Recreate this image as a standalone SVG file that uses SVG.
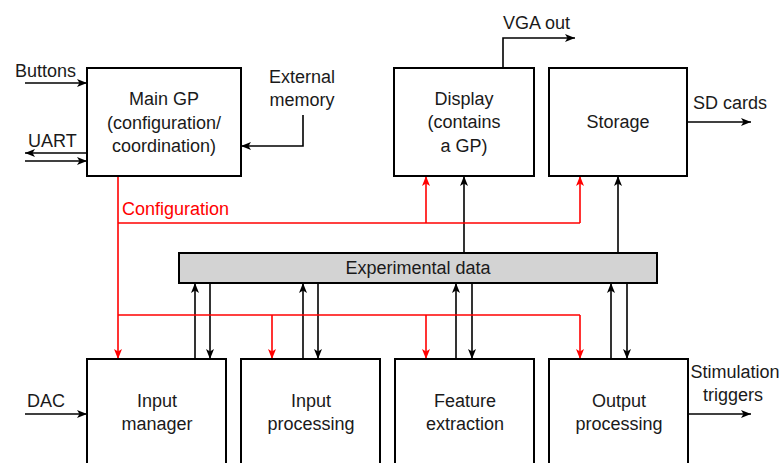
<svg xmlns="http://www.w3.org/2000/svg" width="783" height="463" viewBox="0 0 783 463">
<style>
.box{fill:#fff;stroke:#000;stroke-width:2}
.bar{fill:#d3d3d3;stroke:#000;stroke-width:2}
.t{font-family:"Liberation Sans",Arial,sans-serif;font-size:18px;fill:#1a1a1a}
.c{text-anchor:middle}
.k{fill:none;stroke:#000;stroke-width:1.6}
.r{fill:none;stroke:#f00;stroke-width:1.6}
.ka{marker-end:url(#ak)}
.ra{marker-end:url(#ar)}
</style>
<defs>
<marker id="ak" markerUnits="userSpaceOnUse" markerWidth="12" markerHeight="10" refX="10" refY="4" orient="auto">
<path d="M0,0 L10,4 L0,8 L2.5,4 z" fill="#000"/>
</marker>
<marker id="ar" markerUnits="userSpaceOnUse" markerWidth="12" markerHeight="10" refX="10" refY="4" orient="auto">
<path d="M0,0 L10,4 L0,8 L2.5,4 z" fill="#f00"/>
</marker>
</defs>
<rect width="783" height="463" fill="#fff"/>

<g id="connectors">
<line class="k ka" x1="25" y1="83" x2="87" y2="83"/>
<line class="k ka" x1="87" y1="153" x2="25" y2="153"/>
<line class="k ka" x1="25" y1="161" x2="87" y2="161"/>
<polyline class="k ka" points="303,115 303,146 241,146"/>
<polyline class="k ka" points="503,68 503,38 575,38"/>
<line class="k ka" x1="687" y1="122" x2="751" y2="122"/>
<line class="k ka" x1="25" y1="414" x2="87" y2="414"/>
<line class="k ka" x1="688" y1="414" x2="751" y2="414"/>
<line class="k ka" x1="464" y1="253" x2="464" y2="176"/>
<line class="k ka" x1="618" y1="253" x2="618" y2="176"/>
<line class="k ka" x1="195" y1="359" x2="195" y2="283"/>
<line class="k ka" x1="210" y1="283" x2="210" y2="359"/>
<line class="k ka" x1="303" y1="359" x2="303" y2="283"/>
<line class="k ka" x1="318" y1="283" x2="318" y2="359"/>
<line class="k ka" x1="456" y1="359" x2="456" y2="283"/>
<line class="k ka" x1="472" y1="283" x2="472" y2="359"/>
<line class="k ka" x1="611" y1="359" x2="611" y2="283"/>
<line class="k ka" x1="627" y1="283" x2="627" y2="359"/>
<line class="r ra" x1="118" y1="176" x2="118" y2="359"/>
<line class="r" x1="118" y1="223" x2="580" y2="223"/>
<line class="r ra" x1="426" y1="223" x2="426" y2="176"/>
<line class="r ra" x1="580" y1="223" x2="580" y2="176"/>
<line class="r" x1="118" y1="315" x2="580" y2="315"/>
<line class="r ra" x1="272" y1="315" x2="272" y2="359"/>
<line class="r ra" x1="426" y1="315" x2="426" y2="359"/>
<line class="r ra" x1="580" y1="315" x2="580" y2="359"/>
</g>

<g id="labels">
<text class="t" x="15" y="77">Buttons</text>
<text class="t" x="28" y="147">UART</text>
<text class="t c" x="302" y="83">External</text>
<text class="t c" x="302" y="106">memory</text>
<text class="t" x="503" y="29">VGA out</text>
<text class="t" x="693" y="109">SD cards</text>
<text class="t" x="122" y="215" style="fill:#f00">Configuration</text>
<text class="t" x="27" y="407">DAC</text>
<text class="t c" x="735" y="378">Stimulation</text>
<text class="t c" x="733" y="401">triggers</text>
</g>

<g id="main-gp">
<rect class="box" x="87" y="68" width="154" height="108"/>
<text class="t c" x="164" y="105">Main GP</text>
<text class="t c" x="164" y="129">(configuration/</text>
<text class="t c" x="164" y="152">coordination)</text>
</g>
<g id="display">
<rect class="box" x="394" y="68" width="140" height="108"/>
<text class="t c" x="464" y="105">Display</text>
<text class="t c" x="464" y="128">(contains</text>
<text class="t c" x="464" y="152">a GP)</text>
</g>
<g id="storage">
<rect class="box" x="549" y="68" width="138" height="108"/>
<text class="t c" x="618" y="128">Storage</text>
</g>
<g id="experimental-data">
<rect class="bar" x="179" y="253" width="478" height="30"/>
<text class="t c" x="418" y="274">Experimental data</text>
</g>
<g id="input-manager">
<rect class="box" x="87" y="359" width="139" height="110"/>
<text class="t c" x="157" y="407">Input</text>
<text class="t c" x="157" y="430">manager</text>
</g>
<g id="input-processing">
<rect class="box" x="241" y="359" width="139" height="110"/>
<text class="t c" x="311" y="407">Input</text>
<text class="t c" x="311" y="430">processing</text>
</g>
<g id="feature-extraction">
<rect class="box" x="395" y="359" width="139" height="110"/>
<text class="t c" x="465" y="407">Feature</text>
<text class="t c" x="465" y="430">extraction</text>
</g>
<g id="output-processing">
<rect class="box" x="549" y="359" width="139" height="110"/>
<text class="t c" x="619" y="407">Output</text>
<text class="t c" x="619" y="430">processing</text>
</g>
</svg>
